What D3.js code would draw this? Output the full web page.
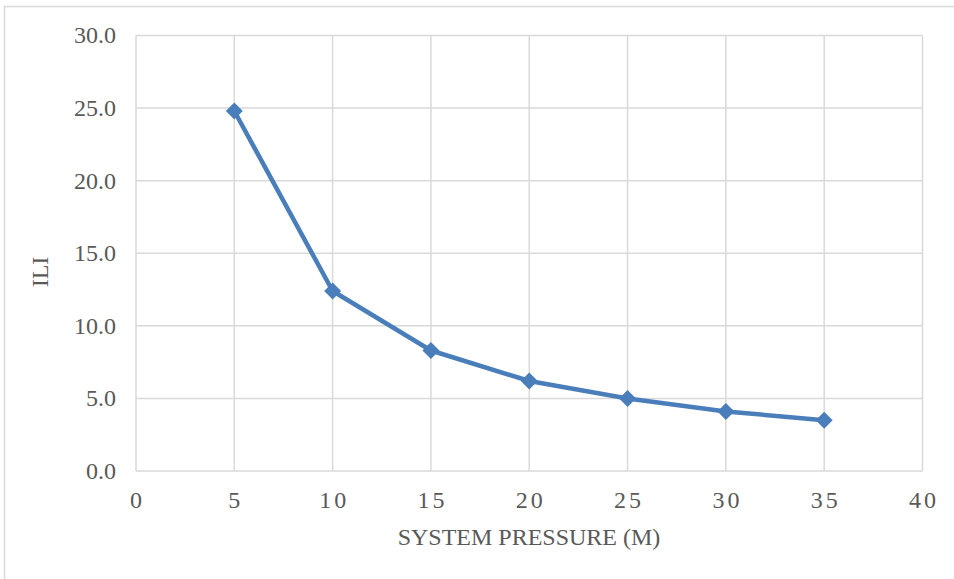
<!DOCTYPE html>
<html><head><meta charset="utf-8">
<script src="https://cdn.jsdelivr.net/npm/d3@7"></script>
<style>body{margin:0;background:#fff}svg{display:block}</style>
</head><body><svg id="c" width="954" height="579"></svg>
<script>
const pressure = [5, 10, 15, 20, 25, 30, 35];
const ili = [24.8, 12.4, 8.3, 6.2, 5.0, 4.1, 3.5];
const xTicks = [0, 5, 10, 15, 20, 25, 30, 35, 40];
const yTicks = [0, 5, 10, 15, 20, 25, 30];
const xTitle = "SYSTEM PRESSURE (M)";
const yTitle = "ILI";

const svg = d3.select("#c");
svg.append("rect").attr("x", 4.5).attr("y", 6.5).attr("width", 960).attr("height", 600)
  .attr("fill", "#fff").attr("stroke", "#d9d9d9").attr("stroke-width", 1.5);

const x = d3.scaleLinear().domain([0, 40]).range([136, 922.5]);
const y = d3.scaleLinear().domain([0, 30]).range([471, 35.5]);
const font = "'Liberation Serif','Times New Roman',serif";
const gridC = "#d9d9d9";

const g = svg.append("g");
g.selectAll(".hg").data(yTicks).join("line")
  .attr("x1", x(0)).attr("x2", x(40)).attr("y1", d => y(d)).attr("y2", d => y(d))
  .attr("stroke", gridC).attr("stroke-width", 1.5);
g.selectAll(".vg").data(xTicks).join("line")
  .attr("y1", y(0)).attr("y2", y(30)).attr("x1", d => x(d)).attr("x2", d => x(d))
  .attr("stroke", gridC).attr("stroke-width", 1.5);

g.selectAll(".yl").data(yTicks).join("text")
  .attr("x", 116).attr("y", d => y(d)).attr("dy", "0.33em")
  .attr("text-anchor", "end").attr("font-family", font).attr("font-size", 24)
  .attr("fill", "#595959").text(d => d3.format(".1f")(d));
g.selectAll(".xl").data(xTicks).join("text")
  .attr("x", d => x(d) + 1.5).attr("y", 508)
  .attr("text-anchor", "middle").attr("font-family", font).attr("font-size", 24)
  .attr("letter-spacing", "3px")
  .attr("fill", "#595959").text(d => d);

svg.append("text").attr("x", 529).attr("y", 545).attr("text-anchor", "middle")
  .attr("font-family", font).attr("font-size", 24).attr("fill", "#595959").text(xTitle);
svg.append("text").attr("transform", "translate(48,272) rotate(-90)").attr("text-anchor", "middle")
  .attr("font-family", font).attr("font-size", 24).attr("fill", "#595959").text(yTitle);

const pts = pressure.map((p, i) => [p, ili[i]]);
const col = "#4a7ebb";
g.append("path").datum(pts)
  .attr("d", d3.line().x(d => x(d[0])).y(d => y(d[1])))
  .attr("fill", "none").attr("stroke", col).attr("stroke-width", 4.5).attr("stroke-linejoin", "round");
g.selectAll(".m").data(pts).join("path")
  .attr("transform", d => `translate(${x(d[0])},${y(d[1])})`)
  .attr("d", "M0,-8.5L8.5,0L0,8.5L-8.5,0Z").attr("fill", col);
</script></body></html>
